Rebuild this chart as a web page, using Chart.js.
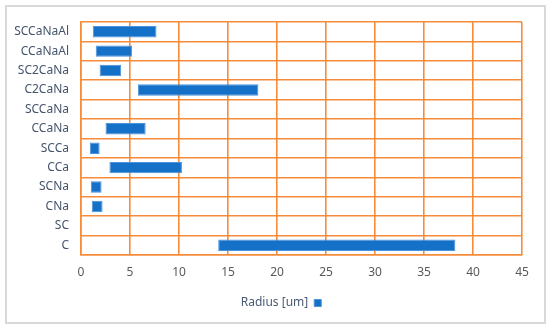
<!DOCTYPE html>
<html>
<head>
<meta charset="utf-8">
<script src="https://cdn.jsdelivr.net/npm/chart.js@4/dist/chart.umd.min.js"></script>
<style>
  html, body { margin: 0; padding: 0; background: #ffffff; }
  #wrap { position: relative; width: 550px; height: 331px; }
  canvas { display: block; }
</style>
</head>
<body>
<div id="wrap"><canvas id="c" width="550" height="331"></canvas></div>
<script>
const categories = ["SCCaNaAl", "CCaNaAl", "SC2CaNa", "C2CaNa", "SCCaNa", "CCaNa", "SCCa", "CCa", "SCNa", "CNa", "SC", "C"];
const radiusMin = [1.2, 1.5, 1.9, 5.8, null, 2.5, 0.9, 2.9, 1.0, 1.1, null, 14.0];
const radiusMax = [7.7, 5.2, 4.1, 18.1, null, 6.6, 1.9, 10.3, 2.1, 2.2, null, 38.2];
const seriesName = "Radius [um]";
const xMin = 0, xMax = 45, xStep = 5;

const ranges = categories.map((c, i) => (radiusMin[i] == null ? null : [radiusMin[i], radiusMax[i]]));

const GRID = "#F68B3A";
const FONT = "'Noto Sans', 'Open Sans', sans-serif";

const framePlugin = {
  id: "frame",
  beforeDraw(chart) {
    const ctx = chart.ctx;
    ctx.save();
    ctx.fillStyle = "#ffffff";
    ctx.fillRect(0, 0, chart.width, chart.height);
    ctx.strokeStyle = "#d9d9d9";
    ctx.lineWidth = 2;
    ctx.strokeRect(6, 6, 539, 317);
    ctx.restore();
    const lg = chart.legend;
    if (lg) {
      const r = lg.right;
      lg.left = 40;
      lg.width = r - 40;
      lg.right = r;
    }
  }
};

new Chart(document.getElementById("c"), {
  type: "bar",
  data: {
    labels: categories,
    datasets: [{
      label: seriesName,
      data: ranges,
      backgroundColor: "#1570C8",
      borderColor: "#4B93DA",
      borderWidth: 1,
      borderSkipped: false,
      barPercentage: 0.59,
      categoryPercentage: 1.0
    }]
  },
  options: {
    indexAxis: "y",
    responsive: false,
    animation: false,
    devicePixelRatio: 1,
    layout: { padding: { left: 0, right: 28, top: 22, bottom: 12 } },
    plugins: {
      legend: {
        position: "bottom",
        rtl: true,
        labels: {
          boxWidth: 7,
          boxHeight: 7,
          padding: 10,
          color: "#4A5A74",
          font: { family: FONT, size: 12 }
        }
      },
      tooltip: { enabled: false }
    },
    scales: {
      x: {
        type: "linear",
        min: xMin,
        max: xMax,
        ticks: { stepSize: xStep, color: "#595959", padding: 10, font: { family: FONT, size: 12 } },
        grid: { color: GRID, lineWidth: 1.6, drawTicks: false },
        border: { color: GRID, width: 1.6 },
        afterFit(s) { s.height = 32; }
      },
      y: {
        type: "category",
        ticks: { color: "#44546A", padding: 12, font: { family: FONT, size: 12 } },
        grid: { color: GRID, lineWidth: 1.6, drawTicks: false, offset: true },
        border: { color: GRID, width: 1.6 },
        afterFit(s) { s.width = 81; }
      }
    }
  },
  plugins: [framePlugin]
});
</script>
</body>
</html>
